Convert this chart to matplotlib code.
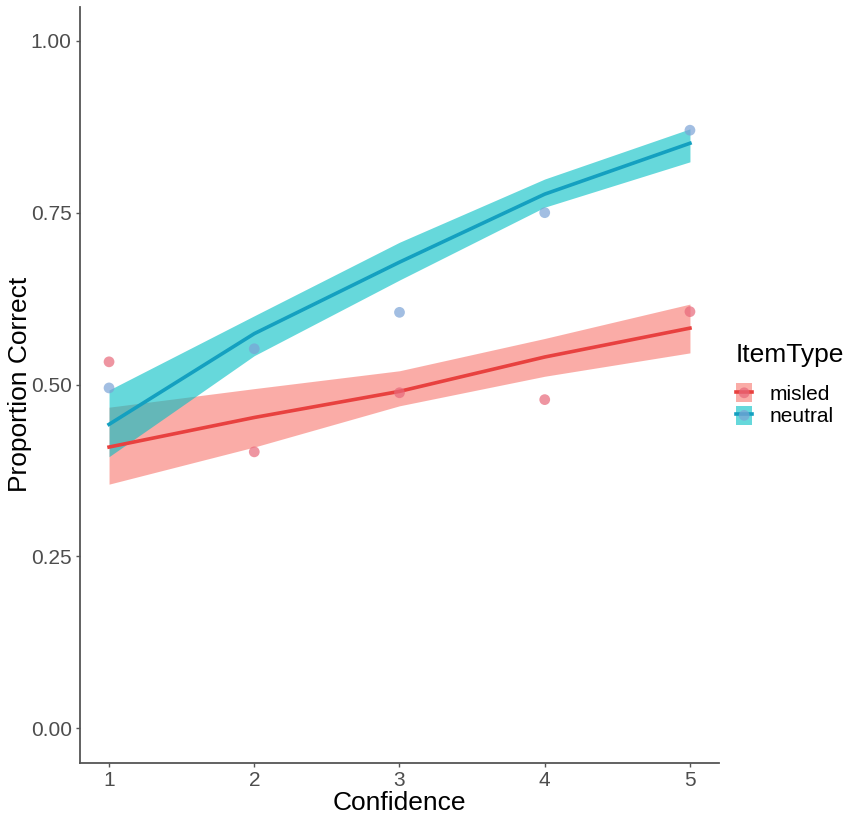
import matplotlib.pyplot as plt
import numpy as np

plt.rcParams['font.family'] = ['Liberation Sans', 'DejaVu Sans']

confidence = [1, 2, 3, 4, 5]
groups = ['misled', 'neutral']

# observed proportions
obs_misled = [0.533, 0.402, 0.488, 0.478, 0.606]
obs_neutral = [0.495, 0.552, 0.605, 0.750, 0.870]

# fitted values and confidence band
fit_misled = [0.409, 0.452, 0.490, 0.540, 0.582]
lo_misled = [0.355, 0.409, 0.469, 0.512, 0.546]
hi_misled = [0.467, 0.494, 0.520, 0.567, 0.617]

fit_neutral = [0.442, 0.574, 0.678, 0.777, 0.851]
lo_neutral = [0.395, 0.542, 0.652, 0.758, 0.824]
hi_neutral = [0.492, 0.600, 0.707, 0.799, 0.872]

yticks = [0.00, 0.25, 0.50, 0.75, 1.00]
ytick_labels = ['0.00', '0.25', '0.50', '0.75', '1.00']

fill_cols = {'misled': '#F8766D', 'neutral': '#00BFC4'}
line_cols = {'misled': '#E8413F', 'neutral': '#14A0C0'}
pt_cols = {'misled': '#E8687A', 'neutral': '#7BA3D6'}

fig = plt.figure(figsize=(8.51, 8.16), dpi=100)
ax = fig.add_axes([80/851, (816-762.5)/816, (719-80)/851, (762.5-6.5)/816])

series = {
    'misled': (obs_misled, fit_misled, lo_misled, hi_misled),
    'neutral': (obs_neutral, fit_neutral, lo_neutral, hi_neutral),
}
handles = []
for g in groups:
    obs, fit, lo, hi = series[g]
    band = ax.fill_between(confidence, lo, hi, color=fill_cols[g], alpha=0.6,
                           linewidth=0, zorder=2)
    ln, = ax.plot(confidence, fit, color=line_cols[g], lw=2.6, zorder=3)
    pts = ax.scatter(confidence, obs, s=60, color=pt_cols[g], alpha=0.7,
                     edgecolors='none', zorder=4)
    handles.append((band, ln, pts))

ax.set_xlim(0.8, 5.2)
ax.set_ylim(-0.05, 1.05)
ax.set_xticks(confidence)
ax.set_yticks(yticks)
ax.set_yticklabels(ytick_labels)

for side in ['top', 'right']:
    ax.spines[side].set_visible(False)
for side in ['left', 'bottom']:
    ax.spines[side].set_color('#555555')
    ax.spines[side].set_linewidth(1.3)
ax.tick_params(axis='both', colors='#555555', length=3, width=1,
               labelsize=15, labelcolor='#4D4D4D', pad=3)

ax.set_xlabel('Confidence', fontsize=19, labelpad=1)
ax.set_ylabel('Proportion Correct', fontsize=19, labelpad=-1)

leg = ax.legend(handles, groups, title='ItemType', loc='center left',
                bbox_to_anchor=(0.997, 0.5), frameon=False, fontsize=15,
                title_fontsize=19, handlelength=0.8, handleheight=1.0,
                labelspacing=0.1, handletextpad=0.8, scatterpoints=1)
leg._legend_box.align = 'left'
leg._legend_box.sep = 12

fig.savefig('out.png', dpi=100)
